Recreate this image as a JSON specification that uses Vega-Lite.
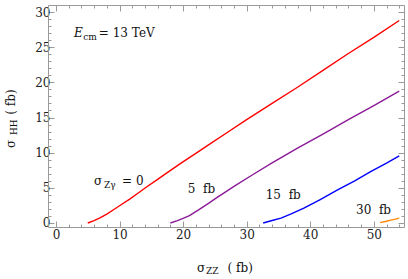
{
  "$schema": "https://vega.github.io/schema/vega-lite/v6.json",
  "width": 356,
  "height": 222,
  "autosize": {"type": "none"},
  "padding": {"left": 48, "top": 5, "right": 4, "bottom": 52},
  "background": "white",
  "config": {
    "view": {"stroke": null},
    "font": "DejaVu Serif",
    "axis": {
      "domainColor": "#9a9a9a",
      "domainWidth": 1,
      "tickColor": "#9a9a9a",
      "tickWidth": 1,
      "labelFont": "DejaVu Serif",
      "labelFontSize": 12,
      "labelColor": "#222222",
      "grid": false,
      "title": null
    },
    "text": {"font": "DejaVu Serif", "color": "#111111"}
  },
  "datasets": {
    "curves": [
      {"series": "0", "x": 5, "y": 0}, {"series": "0", "x": 6, "y": 0.35}, {"series": "0", "x": 7, "y": 0.75},
      {"series": "0", "x": 8, "y": 1.25}, {"series": "0", "x": 9, "y": 1.85}, {"series": "0", "x": 10, "y": 2.45},
      {"series": "0", "x": 11.6, "y": 3.4}, {"series": "0", "x": 13, "y": 4.3}, {"series": "0", "x": 14.3, "y": 5.15},
      {"series": "0", "x": 16, "y": 6.2}, {"series": "0", "x": 17, "y": 6.85}, {"series": "0", "x": 19.5, "y": 8.4},
      {"series": "0", "x": 22, "y": 9.9}, {"series": "0", "x": 24, "y": 11.1}, {"series": "0", "x": 27, "y": 12.9},
      {"series": "0", "x": 30, "y": 14.7}, {"series": "0", "x": 34, "y": 17.0}, {"series": "0", "x": 38, "y": 19.3},
      {"series": "0", "x": 42, "y": 21.7}, {"series": "0", "x": 46, "y": 24.1}, {"series": "0", "x": 50, "y": 26.4},
      {"series": "0", "x": 54, "y": 28.8},
      {"series": "5", "x": 18, "y": 0}, {"series": "5", "x": 19, "y": 0.3}, {"series": "5", "x": 20, "y": 0.65},
      {"series": "5", "x": 21, "y": 1.05}, {"series": "5", "x": 22.5, "y": 1.9}, {"series": "5", "x": 24, "y": 2.8},
      {"series": "5", "x": 25.3, "y": 3.6}, {"series": "5", "x": 27, "y": 4.6}, {"series": "5", "x": 28, "y": 5.2},
      {"series": "5", "x": 31, "y": 6.9}, {"series": "5", "x": 34, "y": 8.55}, {"series": "5", "x": 38, "y": 10.65},
      {"series": "5", "x": 42, "y": 12.65}, {"series": "5", "x": 46, "y": 14.7}, {"series": "5", "x": 50, "y": 16.7},
      {"series": "5", "x": 54, "y": 18.75},
      {"series": "15", "x": 32.6, "y": 0}, {"series": "15", "x": 34, "y": 0.35}, {"series": "15", "x": 35.4, "y": 0.7},
      {"series": "15", "x": 37, "y": 1.3}, {"series": "15", "x": 39, "y": 2.1}, {"series": "15", "x": 41.5, "y": 3.3},
      {"series": "15", "x": 44.3, "y": 4.7}, {"series": "15", "x": 47, "y": 6.0}, {"series": "15", "x": 49.5, "y": 7.3},
      {"series": "15", "x": 52, "y": 8.5}, {"series": "15", "x": 54, "y": 9.55},
      {"series": "30", "x": 51, "y": 0.05}, {"series": "30", "x": 52, "y": 0.25}, {"series": "30", "x": 52.7, "y": 0.4},
      {"series": "30", "x": 53.4, "y": 0.55}, {"series": "30", "x": 54, "y": 0.7}
    ],
    "notes": [
      {"role": "ital", "x": 2.83, "y": 26.5, "text": "E"},
      {"role": "sub", "x": 4.3, "y": 26.0, "text": "cm"},
      {"role": "main", "x": 6.75, "y": 26.5, "text": "= 13 TeV"},
      {"role": "main", "x": 5.97, "y": 5.4, "text": "σ"},
      {"role": "sub", "x": 7.55, "y": 4.98, "text": "Zγ"},
      {"role": "main", "x": 10.4, "y": 5.4, "text": "= 0"},
      {"role": "main", "x": 20.75, "y": 4.27, "text": "5  fb"},
      {"role": "main", "x": 33.0, "y": 3.41, "text": "15  fb"},
      {"role": "main", "x": 47.2, "y": 1.28, "text": "30  fb"},
      {"role": "main", "x": 22.2, "y": -6.97, "text": "σ"},
      {"role": "sub", "x": 23.6, "y": -7.25, "text": "ZZ"},
      {"role": "main", "x": 27.0, "y": -6.97, "text": "( fb)"},
      {"role": "ymain", "x": -6.45, "y": 10.67, "text": "σ"},
      {"role": "ysub", "x": -6.13, "y": 12.5, "text": "HH"},
      {"role": "ymain", "x": -6.45, "y": 15.4, "text": "( fb)"}
    ]
  },
  "layer": [
    {
      "data": {"name": "curves"},
      "mark": {"type": "line", "strokeWidth": 1.4, "clip": true},
      "encoding": {
        "x": {
          "field": "x", "type": "quantitative",
          "scale": {"domain": [-1.25, 54.75], "nice": false, "zero": false},
          "axis": {
            "orient": "bottom",
            "values": [0, 2, 4, 6, 8, 10, 12, 14, 16, 18, 20, 22, 24, 26, 28, 30, 32, 34, 36, 38, 40, 42, 44, 46, 48, 50, 52, 54],
            "labelExpr": "datum.value % 10 === 0 ? datum.label : ''",
            "tickSize": {"condition": {"test": "datum.value % 10 === 0", "value": -6}, "value": -3},
            "labelPadding": 8,
            "labelFlush": false,
            "labelOverlap": false
          }
        },
        "y": {
          "field": "y", "type": "quantitative",
          "scale": {"domain": [-0.57, 31.0], "nice": false, "zero": false},
          "axis": {
            "orient": "left",
            "values": [0, 1, 2, 3, 4, 5, 6, 7, 8, 9, 10, 11, 12, 13, 14, 15, 16, 17, 18, 19, 20, 21, 22, 23, 24, 25, 26, 27, 28, 29, 30],
            "labelExpr": "datum.value % 5 === 0 ? datum.label : ''",
            "tickSize": {"condition": {"test": "datum.value % 5 === 0", "value": -6}, "value": -3},
            "labelPadding": 4,
            "labelFlush": false,
            "labelOverlap": false
          }
        },
        "color": {
          "field": "series", "type": "nominal",
          "scale": {"domain": ["0", "5", "15", "30"], "range": ["#ff0000", "#8a1a96", "#0000ff", "#ff8800"]},
          "legend": null
        }
      }
    },
    {
      "data": {"name": "curves"},
      "mark": {"type": "line", "opacity": 0, "clip": true},
      "encoding": {
        "x": {
          "field": "x", "type": "quantitative",
          "scale": {"domain": [-1.25, 54.75], "nice": false, "zero": false},
          "axis": {
            "orient": "top",
            "labels": false,
            "values": [0, 2, 4, 6, 8, 10, 12, 14, 16, 18, 20, 22, 24, 26, 28, 30, 32, 34, 36, 38, 40, 42, 44, 46, 48, 50, 52, 54],
            "tickSize": {"condition": {"test": "datum.value % 10 === 0", "value": -6}, "value": -3}
          }
        },
        "y": {
          "field": "y", "type": "quantitative",
          "scale": {"domain": [-0.57, 31.0], "nice": false, "zero": false},
          "axis": {
            "orient": "right",
            "labels": false,
            "values": [0, 1, 2, 3, 4, 5, 6, 7, 8, 9, 10, 11, 12, 13, 14, 15, 16, 17, 18, 19, 20, 21, 22, 23, 24, 25, 26, 27, 28, 29, 30],
            "tickSize": {"condition": {"test": "datum.value % 5 === 0", "value": -6}, "value": -3}
          }
        },
        "detail": {"field": "series"}
      }
    },
    {
      "data": {"name": "notes"},
      "transform": [{"filter": "datum.role === 'main'"}, {"calculate": "replace(datum.text, /  /g, '\u00a0\u00a0')", "as": "label"}],
      "mark": {"type": "text", "align": "left", "baseline": "alphabetic", "fontSize": 12},
      "encoding": {
        "x": {"field": "x", "type": "quantitative", "scale": {"domain": [-1.25, 54.75], "nice": false, "zero": false}, "axis": null},
        "y": {"field": "y", "type": "quantitative", "scale": {"domain": [-0.57, 31.0], "nice": false, "zero": false}, "axis": null},
        "text": {"field": "label"}
      }
    },
    {
      "data": {"name": "notes"},
      "transform": [{"filter": "datum.role === 'ital'"}],
      "mark": {"type": "text", "align": "left", "baseline": "alphabetic", "fontSize": 12, "fontStyle": "italic"},
      "encoding": {
        "x": {"field": "x", "type": "quantitative", "scale": {"domain": [-1.25, 54.75], "nice": false, "zero": false}, "axis": null},
        "y": {"field": "y", "type": "quantitative", "scale": {"domain": [-0.57, 31.0], "nice": false, "zero": false}, "axis": null},
        "text": {"field": "text"}
      }
    },
    {
      "data": {"name": "notes"},
      "transform": [{"filter": "datum.role === 'sub'"}],
      "mark": {"type": "text", "align": "left", "baseline": "alphabetic", "fontSize": 9},
      "encoding": {
        "x": {"field": "x", "type": "quantitative", "scale": {"domain": [-1.25, 54.75], "nice": false, "zero": false}, "axis": null},
        "y": {"field": "y", "type": "quantitative", "scale": {"domain": [-0.57, 31.0], "nice": false, "zero": false}, "axis": null},
        "text": {"field": "text"}
      }
    },
    {
      "data": {"name": "notes"},
      "transform": [{"filter": "datum.role === 'ymain'"}],
      "mark": {"type": "text", "align": "left", "baseline": "alphabetic", "angle": 270, "fontSize": 12},
      "encoding": {
        "x": {"field": "x", "type": "quantitative", "scale": {"domain": [-1.25, 54.75], "nice": false, "zero": false}, "axis": null},
        "y": {"field": "y", "type": "quantitative", "scale": {"domain": [-0.57, 31.0], "nice": false, "zero": false}, "axis": null},
        "text": {"field": "text"}
      }
    },
    {
      "data": {"name": "notes"},
      "transform": [{"filter": "datum.role === 'ysub'"}],
      "mark": {"type": "text", "align": "left", "baseline": "alphabetic", "angle": 270, "fontSize": 9},
      "encoding": {
        "x": {"field": "x", "type": "quantitative", "scale": {"domain": [-1.25, 54.75], "nice": false, "zero": false}, "axis": null},
        "y": {"field": "y", "type": "quantitative", "scale": {"domain": [-0.57, 31.0], "nice": false, "zero": false}, "axis": null},
        "text": {"field": "text"}
      }
    }
  ],
  "resolve": {"axis": {"x": "independent", "y": "independent"}}
}
